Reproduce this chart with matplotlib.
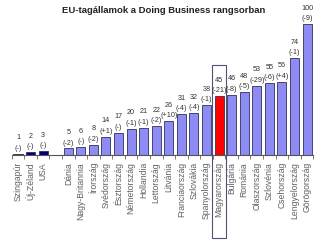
import matplotlib
matplotlib.use("Agg")
import matplotlib.pyplot as plt
from matplotlib.patches import Rectangle
import matplotlib.transforms as mtransforms

countries = ["Szingapúr", "Új-Zéland", "USA", "",
             "Dánia", "Nagy-Britannia", "Írország", "Svédország", "Észtország",
             "Németország", "Hollandia", "Lettország", "Litvánia", "Franciaország",
             "Szlovákia", "Spanyolország", "Magyarország", "Bulgária", "Románia",
             "Olaszország", "Szlovénia", "Csehország", "Lengyelország", "Görögország"]
ranks = [1, 2, 3, None,
         5, 6, 8, 14, 17, 20, 21, 22, 26, 31, 32, 38, 45, 46, 48, 53, 55, 56, 74, 100]
changes = ["(-)", "(-)", "(-)", "",
           "(-2)", "(-)", "(-2)", "(+1)", "(-)", "(-1)", "(-1)", "(-2)", "(+10)",
           "(-4)", "(-4)", "(-1)", "(-21)", "(-8)", "(-5)", "(-29)", "(-6)", "(+4)",
           "(-1)", "(-9)"]
highlight = "Magyarország"
non_eu = ["Szingapúr", "Új-Zéland", "USA"]

plt.rcParams['font.family'] = ['Liberation Sans', 'DejaVu Sans']

fig = plt.figure(figsize=(3.2, 2.4), dpi=100)
ax = fig.add_axes([0.0366, 0.354, 0.9425, 0.546])

for i, (c, r) in enumerate(zip(countries, ranks)):
    if r is None:
        continue
    if c in non_eu:
        col = "#000080"
    elif c == highlight:
        col = "#ff0000"
    else:
        col = "#8c8cf4"
    ax.bar(i, r, width=0.72, color=col, edgecolor="#30305a", linewidth=0.6)
    ax.text(i, r + 9.5, str(r), ha="center", va="bottom", fontsize=5.2, color="#333333")
    ax.text(i, r + 1.5, changes[i], ha="center", va="bottom", fontsize=5.2, color="#333333")

ax.set_xlim(-0.5, len(countries) - 0.5)
ax.set_ylim(0, 100)
ax.set_yticks([])
ax.set_xticks(range(len(countries)))
ax.set_xticklabels(countries, rotation=90, fontsize=6.2, color="#606060")
ax.tick_params(axis="x", length=0, pad=5)
ax.set_xticks([i + 0.5 for i in range(-1, len(countries))], minor=True)
ax.tick_params(axis="x", which="minor", length=3, color="#666666")
for s in ["top", "right", "left"]:
    ax.spines[s].set_visible(False)
ax.spines["bottom"].set_color("#555555")
ax.spines["bottom"].set_linewidth(0.8)

hi = countries.index(highlight)
trans = mtransforms.blended_transform_factory(ax.transData, ax.transAxes)
ax.add_patch(Rectangle((hi - 0.55, -0.63), 1.1, 1.32, transform=trans,
                       fill=False, edgecolor="#505078", linewidth=0.8, clip_on=False))

fig.text(0.51, 0.955, "EU-tagállamok a Doing Business rangsorban", ha="center",
         va="center", fontsize=6.8, fontweight="bold", color="#222222")

fig.savefig("out.png", dpi=100)
